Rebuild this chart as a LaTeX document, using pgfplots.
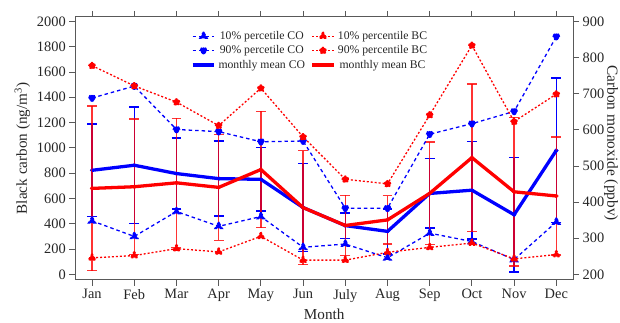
\documentclass[border=0pt]{standalone}
\usepackage{pgfplots}
\usepackage{pgfplotstable}
\pgfplotsset{compat=1.18}
\usepackage{fontspec}
\setmainfont{Liberation Serif}
\begin{document}
\pgfplotstableread{
m mean err p10 p90
1  488 128 348 688
2  502 161 305 721
3  479  98 374 601
4  465 104 333 595
5  463  88 360 567
6  385 122 275 569
7  335  35 284 383
8  319  62 246 383
9  424  96 314 588
10 433 135 291 617
11 365 158 241 651
12 543 200 345 858
}\codata
\pgfplotstableread{
m mean err p10 p90
1  680 650 131 1650
2  693 537 149 1490
3  724 510 204 1362
4  688 418 178 1176
5  829 460 301 1472
6  528 450 113 1087
7  387 238 113 752
8  431 192 175 716
9  641 405 214 1260
10 923 582 248 1810
11 653 588 123 1208
12 620 465 157 1425
}\bcdata
\pgfplotsset{
  base/.style={
    at={(73bp,43bp)}, anchor=south west,
    scale only axis, width=500bp, height=264bp,
    xmin=0.6, xmax=12.4,
    xtick={1,...,12},
    xticklabels={Jan,Feb,Mar,Apr,May,Jun,July,Aug,Sep,Oct,Nov,Dec},
    tick align=outside,
    major tick length=6bp,
    /pgf/number format/assume math mode=true,
    /pgf/number format/1000 sep={},
    tick label style={font=\fontsize{14.5}{16}\selectfont, black!85},
    label style={font=\fontsize{15.3}{17}\selectfont, black!85},
    axis line style={black!65, line width=0.9bp},
    every tick/.style={black!65, line width=0.9bp},
    clip=false,
  },
  bcax/.style={base, ymin=-43, ymax=2035, ytick={0,200,...,2000}},
  coax/.style={base, ymin=184.8, ymax=912.4, ytick={200,300,...,900}},
  tri/.style={mark=triangle*, mark size=4.3bp, mark options={solid, draw=black, line width=0.5bp}},
  circ/.style={mark=*, mark size=3.2bp, mark options={solid, draw=black, line width=0.5bp}},
  codash/.style={blue, line width=1.3bp, dash pattern=on 3.5bp off 3bp},
  bcdash/.style={red, line width=1.3bp, dash pattern=on 2bp off 2bp},
}
\begin{tikzpicture}[x=1bp,y=1bp]
\useasboundingbox (0,0) rectangle (620,324);
% Axis A: CO error bars + right axis
\begin{axis}[coax, axis y line*=right, hide x axis,
  ylabel={Carbon monoxide (ppbv)},
  ylabel style={at={(rel axis cs:1.076,0.52)}, anchor=center, rotate=180,
    font=\fontsize{15.5}{17}\selectfont}]
\addplot[only marks, mark=none, blue,
  error bars/.cd, y dir=both, y explicit,
  error bar style={draw=blue, line width=1.5bp, solid},
  error mark options={draw=blue, rotate=90, mark size=5bp, line width=1.5bp}]
  table[x=m, y=mean, y error=err]{\codata};
\end{axis}
% Axis B: BC frame, left axis, red error bars
\begin{axis}[bcax, ytick pos=left, xlabel={Month},
  ylabel={Black carbon (ng/m\textsuperscript{3})}]
\addplot[only marks, mark=none, red,
  error bars/.cd, y dir=both, y explicit,
  error bar style={draw=red, draw opacity=0.8, line width=1.5bp, solid},
  error mark options={draw=red, draw opacity=0.8, rotate=90, mark size=5bp, line width=1.5bp}]
  table[x=m, y=mean, y error=err]{\bcdata};
\end{axis}
% Axis C: CO lines
\begin{axis}[coax, hide axis]
\addplot[blue, line width=3.3bp] table[x=m, y=mean]{\codata};
\addplot[codash, tri, mark options={fill=blue}] table[x=m, y=p10]{\codata};
\addplot[codash, circ, mark options={fill=blue}] table[x=m, y=p90]{\codata};
\end{axis}
% Axis D: BC lines + legend
\begin{axis}[bcax, hide axis,
  legend columns=2,
  legend style={at={(0.232,0.955)}, anchor=north west, draw=none, fill=none,
    font=\fontsize{11.8}{13}\selectfont, inner sep=0pt,
    nodes={inner sep=2.4bp, text=black!85},
    /tikz/every even column/.append style={column sep=3bp}},
  legend image code/.code={\draw[mark repeat=2,mark phase=2,#1] plot coordinates {(0bp,0bp) (11bp,0bp) (22bp,0bp)};}]
\addplot[forget plot, red, line width=3.3bp] table[x=m, y=mean]{\bcdata};
\addplot[forget plot, bcdash, tri, mark options={fill=red}] table[x=m, y=p10]{\bcdata};
\addplot[forget plot, bcdash, circ, mark options={fill=red}] table[x=m, y=p90]{\bcdata};
\addlegendimage{codash, tri, mark options={fill=blue}}
\addlegendentry{10\% percetile CO}
\addlegendimage{bcdash, tri, mark options={fill=red}}
\addlegendentry{10\% percentile BC}
\addlegendimage{codash, circ, mark options={fill=blue}}
\addlegendentry{90\% percetile CO}
\addlegendimage{bcdash, circ, mark options={fill=red}}
\addlegendentry{90\% percentile BC}
\addlegendimage{blue, line width=3.3bp}
\addlegendentry{monthly mean CO}
\addlegendimage{red, line width=3.3bp}
\addlegendentry{monthly mean BC}
\end{axis}
\end{tikzpicture}
\end{document}
